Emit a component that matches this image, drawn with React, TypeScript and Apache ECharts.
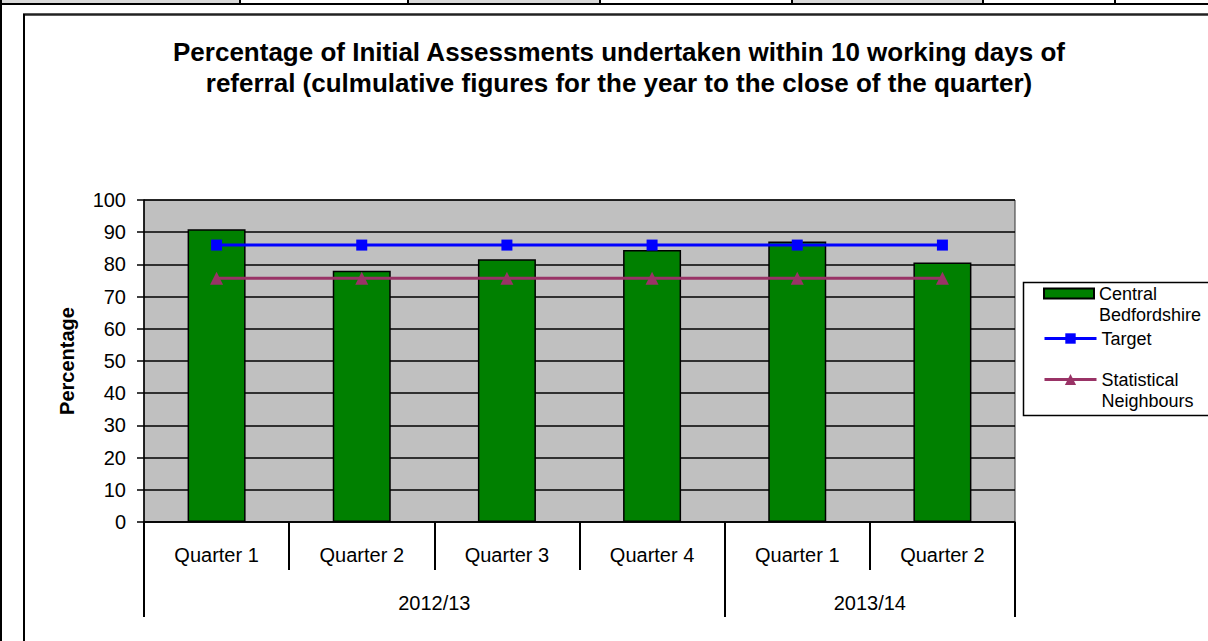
import React, { useEffect, useRef } from "react";
import * as echarts from "echarts";

const categories = ["Quarter 1", "Quarter 2", "Quarter 3", "Quarter 4", "Quarter 1", "Quarter 2"];
const years = ["2012/13", "2013/14"];
const quartersPerYear = [4, 2];
const centralBedfordshire = [90.9, 78.0, 81.6, 84.5, 87.1, 80.6];
const target = [86, 86, 86, 86, 86, 86];
const statisticalNeighbours = [75.7, 75.7, 75.7, 75.7, 75.7, 75.7];
const yTicks = { min: 0, max: 100, interval: 10 };

const FONT = "'Liberation Sans', Arial, sans-serif";

export default function App() {
  const ref = useRef<HTMLDivElement>(null);
  useEffect(() => {
    if (!ref.current) return;
    const chart = echarts.init(ref.current, null, { renderer: "svg" });

    const boundaries: number[] = [0];
    quartersPerYear.forEach((q) => boundaries.push(boundaries[boundaries.length - 1] + q));
    const yearCenters = quartersPerYear.map((q, i) => boundaries[i] + q / 2);

    const headerCells = [0, 240, 408, 600, 792, 983, 1115, 1208];
    const headerGrey = [true, false, true, false, true, false, false];
    const headerGraphics: any[] = [];
    headerCells.slice(0, -1).forEach((x, i) => {
      if (headerGrey[i]) {
        headerGraphics.push({
          type: "rect",
          shape: { x, y: 0, width: headerCells[i + 1] - x, height: 3 },
          style: { fill: "#d9d9d9" },
          silent: true,
        });
      }
      if (i > 0) {
        headerGraphics.push({
          type: "line",
          shape: { x1: x, y1: 0, x2: x, y2: 4 },
          style: { stroke: "#000", lineWidth: 2 },
          silent: true,
        });
      }
    });

    const legendText = {
      fontFamily: FONT,
      fontSize: 18,
      lineHeight: 21,
      color: "#000",
    };

    chart.setOption({
      animation: false,
      backgroundColor: "#fff",
      textStyle: { fontFamily: FONT },
      title: {
        text:
          "Percentage of Initial Assessments undertaken within 10 working days of\nreferral (culmulative figures for the year to the close of the quarter)",
        left: 619,
        top: 36,
        padding: 0,
        textAlign: "center",
        textStyle: {
          fontFamily: FONT,
          fontSize: 26,
          fontWeight: "bold",
          lineHeight: 31,
          color: "#000",
        },
      },
      grid: {
        left: 144,
        top: 200,
        width: 871,
        height: 322,
        show: true,
        backgroundColor: "#c0c0c0",
        borderColor: "#333",
        borderWidth: 1,
      },
      legend: [
        {
          data: [{ name: "Central Bedfordshire", icon: "rect" }],
          left: 1043,
          top: 262,
          padding: 0,
          itemWidth: 50,
          itemHeight: 10,
          formatter: () => "\nCentral\nBedfordshire",
          textStyle: legendText,
          z: 10,
        },
        {
          data: ["Target"],
          left: 1043,
          top: 328,
          padding: 0,
          itemWidth: 52,
          itemHeight: 13,
          lineStyle: { width: 3 },
          textStyle: legendText,
          z: 10,
        },
        {
          data: ["Statistical Neighbours"],
          left: 1043,
          top: 348,
          padding: 0,
          itemWidth: 52,
          itemHeight: 14,
          lineStyle: { width: 3 },
          formatter: () => "\nStatistical\nNeighbours",
          textStyle: legendText,
          z: 10,
        },
      ],
      xAxis: [
        {
          type: "category",
          data: categories,
          position: "bottom",
          axisLine: { show: true, lineStyle: { color: "#000", width: 1.5 } },
          axisTick: { show: true, interval: 0, length: 48, lineStyle: { color: "#000", width: 2 } },
          axisLabel: {
            interval: 0,
            margin: 23,
            fontSize: 20,
            color: "#000",
            fontFamily: FONT,
          },
          splitLine: { show: false },
        },
        {
          type: "value",
          min: 0,
          max: categories.length,
          position: "bottom",
          axisLine: { show: false },
          axisTick: {
            show: true,
            customValues: boundaries,
            length: 95,
            lineStyle: { color: "#000", width: 2 },
          },
          axisLabel: {
            show: true,
            customValues: yearCenters,
            formatter: (v: number) => {
              const idx = yearCenters.indexOf(v);
              return idx >= 0 ? years[idx] : "";
            },
            margin: 71,
            fontSize: 20,
            color: "#000",
            fontFamily: FONT,
          },
          splitLine: { show: false },
        },
      ],
      yAxis: {
        type: "value",
        min: yTicks.min,
        max: yTicks.max,
        interval: yTicks.interval,
        name: "Percentage",
        nameLocation: "middle",
        nameGap: 67,
        nameTextStyle: { fontSize: 20, fontWeight: "bold", color: "#000", fontFamily: FONT },
        axisLine: { show: true, lineStyle: { color: "#000", width: 1.5 } },
        axisTick: { show: true, length: 7, lineStyle: { color: "#000", width: 1.5 } },
        axisLabel: { margin: 18, fontSize: 20, color: "#000", fontFamily: FONT },
        splitLine: { show: true, lineStyle: { color: "#000", width: 1.5 } },
      },
      series: [
        {
          name: "Central Bedfordshire",
          type: "bar",
          data: centralBedfordshire,
          barWidth: 58,
          itemStyle: { color: "#008000", borderColor: "#000", borderWidth: 1.5 },
          z: 2,
        },
        {
          name: "Target",
          type: "line",
          data: target,
          symbol: "rect",
          symbolSize: 11,
          lineStyle: { color: "#0000ff", width: 3 },
          itemStyle: { color: "#0000ff" },
          z: 3,
        },
        {
          name: "Statistical Neighbours",
          type: "line",
          data: statisticalNeighbours,
          symbol: "triangle",
          symbolSize: 13,
          lineStyle: { color: "#993366", width: 3 },
          itemStyle: { color: "#993366" },
          z: 3,
        },
      ],
      graphic: [
        ...headerGraphics,
        {
          type: "line",
          shape: { x1: 0, y1: 4, x2: 1208, y2: 4 },
          style: { stroke: "#000", lineWidth: 2 },
          silent: true,
        },
        {
          type: "line",
          shape: { x1: 1, y1: 0, x2: 1, y2: 641 },
          style: { stroke: "#000", lineWidth: 2 },
          silent: true,
        },
        {
          type: "line",
          shape: { x1: 23, y1: 14.5, x2: 1208, y2: 14.5 },
          style: { stroke: "#222", lineWidth: 2.5 },
          silent: true,
        },
        {
          type: "line",
          shape: { x1: 24, y1: 14, x2: 24, y2: 641 },
          style: { stroke: "#000", lineWidth: 2 },
          silent: true,
        },
        {
          type: "rect",
          shape: { x: 1023.5, y: 282.5, width: 200, height: 133 },
          style: { fill: "#fff", stroke: "#000", lineWidth: 1.5 },
          z: 1,
          silent: true,
        },
      ],
    });
    return () => chart.dispose();
  }, []);
  return (
    <div
      ref={ref}
      style={{ position: "fixed", left: 0, top: 0, width: 1208, height: 641 }}
    />
  );
}
